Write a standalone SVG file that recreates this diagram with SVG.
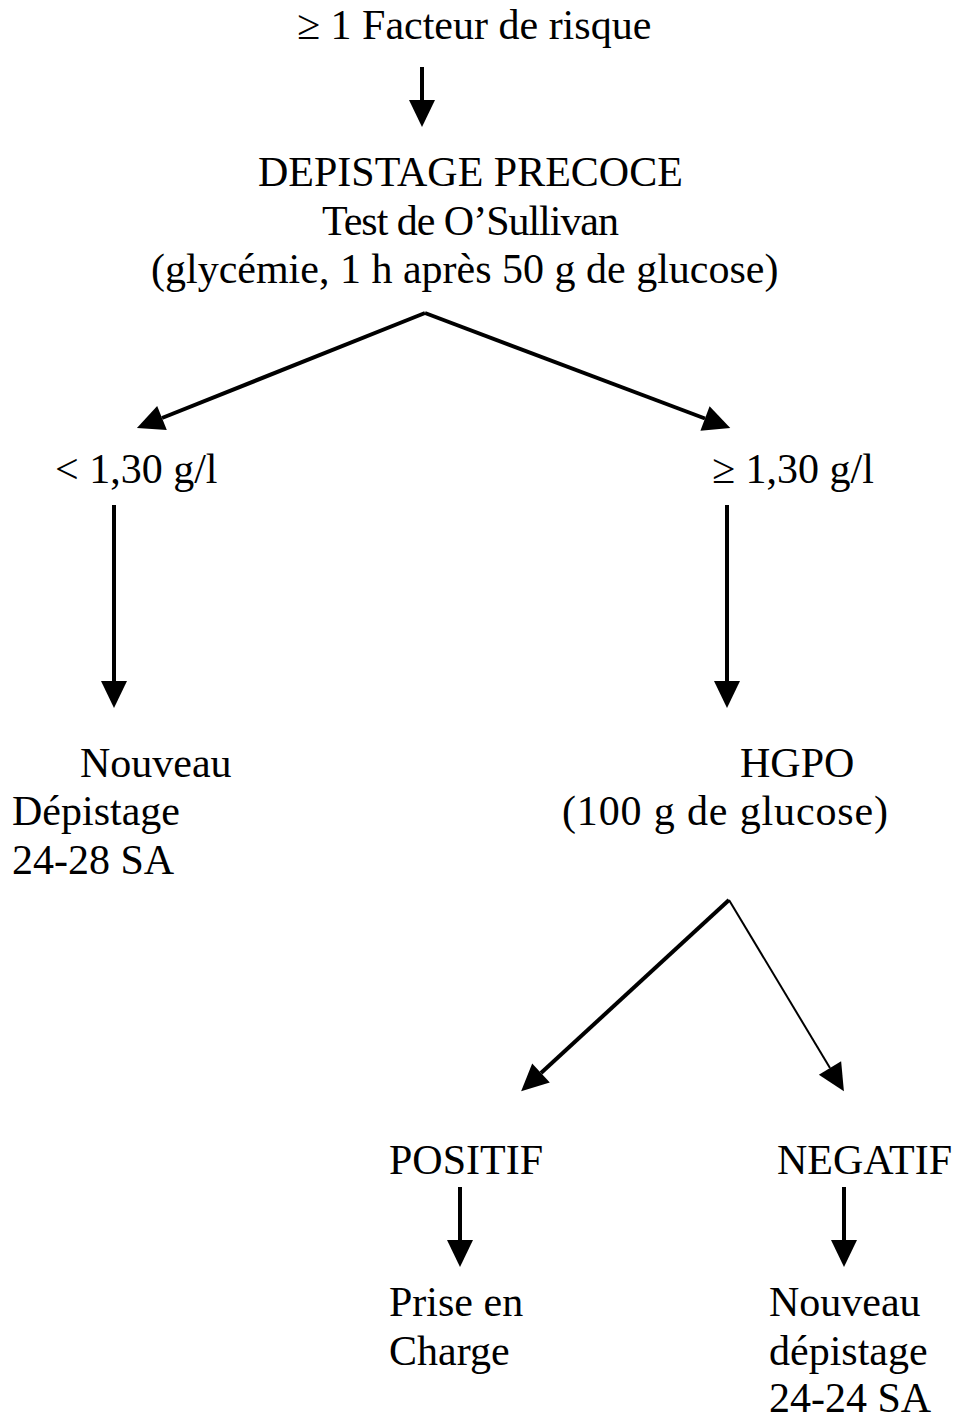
<svg xmlns="http://www.w3.org/2000/svg" width="955" height="1418" viewBox="0 0 955 1418">
<style>
text{font-family:"Liberation Serif","Times New Roman",serif;font-size:42px;fill:#000}
.c{stroke:#000;stroke-width:4;fill:none}
.thin{stroke-width:2}
</style>
<defs>
<marker id="ah" markerUnits="userSpaceOnUse" markerWidth="28" markerHeight="26" refX="0" refY="13" orient="auto" overflow="visible">
<path d="M0,0 L27,13 L0,26 z" fill="#000"/>
</marker>
</defs>
<rect width="955" height="1418" fill="#fff"/>
<g id="connectors">
<line class="c" x1="422" y1="67" x2="422" y2="100" marker-end="url(#ah)"/>
<line class="c" x1="425" y1="313" x2="162" y2="418" marker-end="url(#ah)"/>
<line class="c" x1="425" y1="313" x2="705" y2="418.5" marker-end="url(#ah)"/>
<line class="c" x1="114" y1="505" x2="114" y2="681" marker-end="url(#ah)"/>
<line class="c" x1="727" y1="505" x2="727" y2="681" marker-end="url(#ah)"/>
<line class="c" x1="729" y1="900" x2="541" y2="1073" marker-end="url(#ah)"/>
<line class="c thin" x1="729" y1="900" x2="830" y2="1068" marker-end="url(#ah)"/>
<line class="c" x1="460" y1="1187" x2="460" y2="1240" marker-end="url(#ah)"/>
<line class="c" x1="844" y1="1187" x2="844" y2="1240" marker-end="url(#ah)"/>
</g>
<g id="facteur"><text x="297" y="39">≥ 1 Facteur de risque</text></g>
<g id="depistage-precoce">
<text x="258" y="186">DEPISTAGE PRECOCE</text>
<text x="322" y="235" textLength="297" lengthAdjust="spacing">Test de O’Sullivan</text>
<text x="151" y="283">(glycémie, 1 h après 50 g de glucose)</text>
</g>
<g id="inf"><text x="55" y="483">&lt; 1,30 g/l</text></g>
<g id="sup"><text x="712" y="483">≥ 1,30 g/l</text></g>
<g id="nouveau1">
<text x="80" y="777">Nouveau</text>
<text x="12" y="825">Dépistage</text>
<text x="12" y="874">24-28 SA</text>
</g>
<g id="hgpo">
<text x="740" y="777">HGPO</text>
<text x="562" y="825" textLength="326" lengthAdjust="spacing">(100 g de glucose)</text>
</g>
<g id="positif"><text x="389" y="1174">POSITIF</text></g>
<g id="negatif"><text x="777" y="1174">NEGATIF</text></g>
<g id="prise">
<text x="389" y="1316">Prise en</text>
<text x="389" y="1365">Charge</text>
</g>
<g id="nouveau2">
<text x="769" y="1316">Nouveau</text>
<text x="769" y="1365">dépistage</text>
<text x="769" y="1412">24-24 SA</text>
</g>
</svg>
